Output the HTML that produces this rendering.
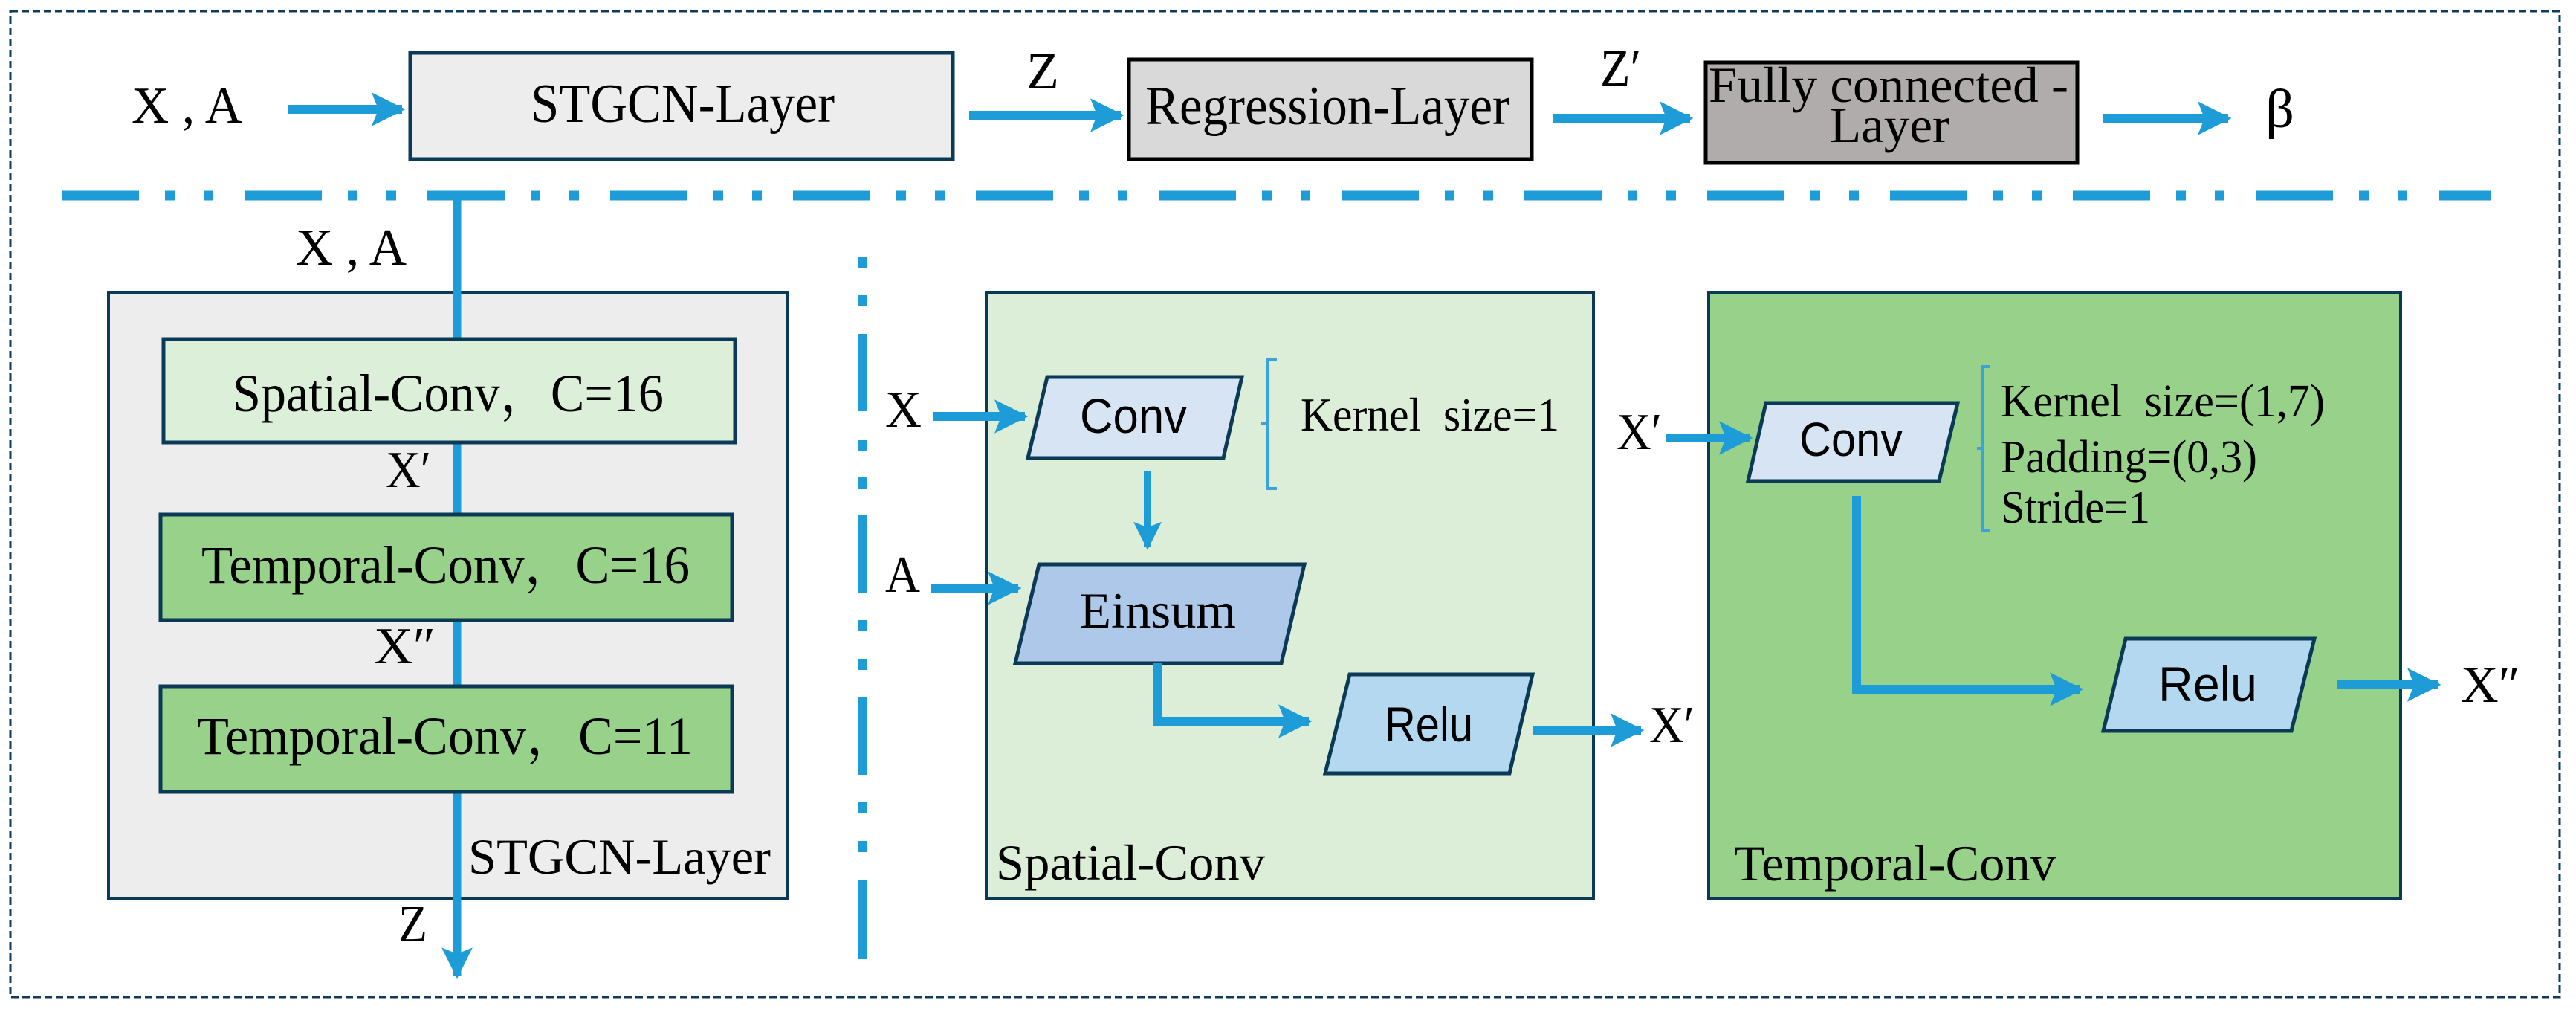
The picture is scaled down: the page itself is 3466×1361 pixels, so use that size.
<!DOCTYPE html>
<html><head><meta charset="utf-8"><style>
html,body{margin:0;padding:0;background:#fff;}
svg{display:block;}
text{font-family:"Liberation Serif","Noto Serif CJK SC",serif;fill:#000;}
.s{font-family:"Liberation Sans","DejaVu Sans",sans-serif;}
</style></head><body>
<svg width="3466" height="1361" viewBox="0 0 3466 1361" xmlns="http://www.w3.org/2000/svg">
<defs>
<marker id="ah" viewBox="0 0 10 10" refX="9" refY="5" markerWidth="3.8" markerHeight="3.8" orient="auto" markerUnits="strokeWidth">
<path d="M0,0 L10,5 L0,10 L2,5 Z" fill="#1e9cd7"/></marker>
</defs>
<rect x="14" y="15" width="3430" height="1326" fill="none" stroke="#0d3b5c" stroke-width="3" stroke-dasharray="10 5"/>

<text x="177" y="165" font-size="70" textLength="149" lengthAdjust="spacingAndGlyphs">X , A</text>
<line x1="387" y1="147" x2="541" y2="147" stroke="#1e9cd7" stroke-width="12" marker-end="url(#ah)"/>
<rect x="552" y="71" width="730" height="143" fill="#ededed" stroke="#0b3a57" stroke-width="5"/>
<text x="714" y="164" font-size="74" textLength="409" lengthAdjust="spacingAndGlyphs">STGCN-Layer</text>
<text x="1381" y="119" font-size="70" textLength="44" lengthAdjust="spacingAndGlyphs">Z</text>
<line x1="1304" y1="155" x2="1508" y2="155" stroke="#1e9cd7" stroke-width="12" marker-end="url(#ah)"/>
<rect x="1519" y="80" width="542" height="134" fill="#d9d9d9" stroke="#000" stroke-width="5"/>
<text x="1541" y="167" font-size="74" textLength="490" lengthAdjust="spacingAndGlyphs">Regression-Layer</text>
<text x="2153" y="115" font-size="70" textLength="55" lengthAdjust="spacingAndGlyphs">Z′</text>
<line x1="2089" y1="159" x2="2274" y2="159" stroke="#1e9cd7" stroke-width="12" marker-end="url(#ah)"/>
<rect x="2295" y="84" width="500" height="135" fill="#b0acab" stroke="#000" stroke-width="5"/>
<text x="2299" y="137" font-size="68" textLength="484" lengthAdjust="spacingAndGlyphs">Fully connected -</text>
<text x="2462" y="191" font-size="68" textLength="161" lengthAdjust="spacingAndGlyphs">Layer</text>
<line x1="2829" y1="159" x2="2998" y2="159" stroke="#1e9cd7" stroke-width="12" marker-end="url(#ah)"/>
<text x="3048" y="171" font-size="74" textLength="39" lengthAdjust="spacingAndGlyphs">β</text>

<line x1="83" y1="263" x2="3352" y2="263" stroke="#1e9cd7" stroke-width="13" stroke-dasharray="104 35 13 39 13 42"/>

<rect x="146" y="394" width="914" height="814" fill="#ededed" stroke="#0b3a57" stroke-width="4"/>
<line x1="615" y1="269" x2="615" y2="1312" stroke="#1e9cd7" stroke-width="11" marker-end="url(#ah)"/>
<text x="398" y="356" font-size="70" textLength="149" lengthAdjust="spacingAndGlyphs">X , A</text>
<rect x="220" y="456" width="769" height="139" fill="#dcefd9" stroke="#0b3a57" stroke-width="5"/>
<text x="313" y="553" font-size="72" textLength="580" lengthAdjust="spacingAndGlyphs">Spatial-Conv，C=16</text>
<text x="519" y="655" font-size="70" textLength="61" lengthAdjust="spacingAndGlyphs">X′</text>
<rect x="216" y="692" width="769" height="142" fill="#98d28a" stroke="#0b3a57" stroke-width="5"/>
<text x="271" y="784" font-size="72" textLength="657" lengthAdjust="spacingAndGlyphs">Temporal-Conv，C=16</text>
<text x="503" y="892" font-size="70" textLength="83" lengthAdjust="spacingAndGlyphs">X″</text>
<rect x="216" y="923" width="769" height="142" fill="#98d28a" stroke="#0b3a57" stroke-width="5"/>
<text x="265" y="1014" font-size="72" textLength="667" lengthAdjust="spacingAndGlyphs">Temporal-Conv，C=11</text>
<text x="630" y="1175" font-size="68" textLength="407" lengthAdjust="spacingAndGlyphs">STGCN-Layer</text>
<text x="536" y="1266" font-size="70" textLength="39" lengthAdjust="spacingAndGlyphs">Z</text>

<g fill="#1e9cd7">
<rect x="1154" y="345" width="13" height="15"/><rect x="1154" y="397" width="13" height="14"/>
<rect x="1154" y="449" width="13" height="104"/><rect x="1154" y="592" width="13" height="14"/><rect x="1154" y="642" width="13" height="15"/>
<rect x="1154" y="693" width="13" height="104"/><rect x="1154" y="834" width="13" height="15"/><rect x="1154" y="886" width="13" height="15"/>
<rect x="1154" y="938" width="13" height="104"/><rect x="1154" y="1079" width="13" height="15"/><rect x="1154" y="1131" width="13" height="15"/>
<rect x="1154" y="1183" width="13" height="107"/>
</g>

<rect x="1327" y="394" width="817" height="814" fill="#ddeed8" stroke="#0b3a57" stroke-width="4"/>
<text x="1191" y="574" font-size="70" textLength="49" lengthAdjust="spacingAndGlyphs">X</text>
<line x1="1256" y1="560" x2="1379" y2="560" stroke="#1e9cd7" stroke-width="12" marker-end="url(#ah)"/>
<polygon points="1409,507 1671,507 1646,616 1383,616" fill="#d6e4f4" stroke="#0b3a57" stroke-width="5"/>
<text class="s" x="1453" y="582" font-size="66" textLength="144" lengthAdjust="spacingAndGlyphs">Conv</text>
<path d="M1718,484 H1705 V657 H1718 M1705,570 H1696" fill="none" stroke="#3aa3dc" stroke-width="4"/>
<text x="1750" y="579" font-size="64" textLength="348" lengthAdjust="spacingAndGlyphs">Kernel&#160;&#160;size=1</text>
<line x1="1544" y1="634" x2="1544" y2="736" stroke="#1e9cd7" stroke-width="10" marker-end="url(#ah)"/>
<text x="1191" y="796" font-size="70" textLength="47" lengthAdjust="spacingAndGlyphs">A</text>
<line x1="1252" y1="791" x2="1370" y2="791" stroke="#1e9cd7" stroke-width="12" marker-end="url(#ah)"/>
<polygon points="1398,759 1755,759 1724,892 1366,892" fill="#adc8e9" stroke="#0b3a57" stroke-width="5"/>
<text x="1453" y="844" font-size="68" textLength="210" lengthAdjust="spacingAndGlyphs">Einsum</text>
<polyline points="1558,892 1558,970 1761,970" fill="none" stroke="#1e9cd7" stroke-width="12" marker-end="url(#ah)"/>
<polygon points="1816,907 2062,907 2031,1040 1783,1040" fill="#b4d8ef" stroke="#0b3a57" stroke-width="5"/>
<text class="s" x="1863" y="997" font-size="66" textLength="119" lengthAdjust="spacingAndGlyphs">Relu</text>
<line x1="2062" y1="982" x2="2208" y2="982" stroke="#1e9cd7" stroke-width="12" marker-end="url(#ah)"/>
<text x="2219" y="998" font-size="70" textLength="61" lengthAdjust="spacingAndGlyphs">X′</text>
<text x="1340" y="1183" font-size="68" textLength="362" lengthAdjust="spacingAndGlyphs">Spatial-Conv</text>

<rect x="2299" y="394" width="931" height="814" fill="#98d28a" stroke="#0b3a57" stroke-width="4"/>
<text x="2175" y="604" font-size="70" textLength="61" lengthAdjust="spacingAndGlyphs">X′</text>
<line x1="2241" y1="589" x2="2354" y2="589" stroke="#1e9cd7" stroke-width="12" marker-end="url(#ah)"/>
<polygon points="2376,542 2634,542 2609,647 2352,647" fill="#d6e4f4" stroke="#0b3a57" stroke-width="5"/>
<text class="s" x="2421" y="613" font-size="64" textLength="139" lengthAdjust="spacingAndGlyphs">Conv</text>
<path d="M2678,493 H2667 V713 H2678 M2667,603 H2660" fill="none" stroke="#3aa3dc" stroke-width="4"/>
<text x="2692" y="560" font-size="62" textLength="436" lengthAdjust="spacingAndGlyphs">Kernel&#160;&#160;size=(1,7)</text>
<text x="2692" y="635" font-size="62" textLength="345" lengthAdjust="spacingAndGlyphs">Padding=(0,3)</text>
<text x="2692" y="703" font-size="62" textLength="201" lengthAdjust="spacingAndGlyphs">Stride=1</text>
<polyline points="2498,667 2498,927 2799,927" fill="none" stroke="#1e9cd7" stroke-width="12" marker-end="url(#ah)"/>
<polygon points="2860,859 3114,859 3083,983 2830,983" fill="#b4d8ef" stroke="#0b3a57" stroke-width="5"/>
<text class="s" x="2904" y="943" font-size="66" textLength="133" lengthAdjust="spacingAndGlyphs">Relu</text>
<line x1="3144" y1="921" x2="3280" y2="921" stroke="#1e9cd7" stroke-width="12" marker-end="url(#ah)"/>
<text x="3311" y="944" font-size="70" textLength="80" lengthAdjust="spacingAndGlyphs">X″</text>
<text x="2333" y="1184" font-size="68" textLength="433" lengthAdjust="spacingAndGlyphs">Temporal-Conv</text>
</svg>
</body></html>
